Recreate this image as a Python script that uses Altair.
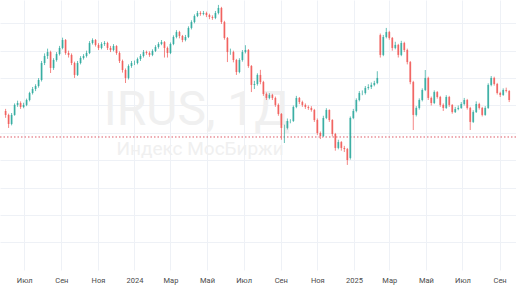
import altair as alt
import pandas as pd

# ---- data (index points, one candle per 5 days) ----
open_ = [2760,2731,2665,2731,2804,2818,2789,2804,2840,2891,
2920,2942,2986,3110,3161,3190,3074,3132,3176,3220,
3278,3183,3169,3110,3023,3110,3147,3161,3183,3256,
3278,3242,3220,3249,3256,3220,3205,3234,3183,3125,
3059,3001,3088,3110,3110,3139,3161,3190,3183,3169,
3198,3227,3249,3263,3220,3183,3249,3300,3336,3307,
3278,3300,3366,3409,3453,3475,3468,3475,3460,3446,
3439,3475,3512,3409,3293,3190,3190,3132,3044,3132,
3190,3205,3088,2950,2957,3023,2971,2884,2855,2877,
2855,2804,2738,2636,2636,2687,2687,2789,2855,2825,
2804,2789,2782,2767,2694,2599,2577,2709,2767,2694,
2592,2490,2533,2490,2482,2417,2709,2760,2840,2891,
2891,2928,2935,2950,2964,3314,3169,3300,3336,3293,
3220,3242,3169,3256,3205,3117,2971,2731,2782,2840,
2913,3001,2855,2818,2898,2862,2804,2782,2862,2804,
2752,2774,2782,2811,2840,2782,2680,2752,2811,2782,
2731,2782,2950,3001,2957,2891,2877,2913,2906]

high = [2775,2740,2745,2815,2835,2830,2820,2850,2900,2935,
2955,3000,3125,3180,3215,3200,3145,3190,3235,3295,
3285,3200,3180,3120,3125,3160,3175,3200,3270,3290,
3285,3255,3262,3270,3265,3235,3248,3240,3195,3135,
3070,3100,3125,3128,3150,3175,3205,3200,3195,3210,
3240,3262,3278,3270,3230,3260,3312,3350,3345,3315,
3315,3378,3422,3465,3490,3488,3490,3485,3470,3458,
3490,3534,3520,3418,3300,3215,3200,3140,3145,3205,
3240,3212,3095,2980,3035,3060,2980,2895,2890,2885,
2865,2815,2745,2660,2705,2700,2800,2870,2862,2835,
2815,2800,2795,2775,2705,2610,2725,2780,2772,2700,
2600,2550,2540,2505,2490,2720,2775,2852,2905,2910,
2942,2955,2968,2980,3050,3325,3315,3366,3345,3300,
3265,3250,3272,3265,3215,3125,2980,2795,2852,2925,
3059,3010,2865,2910,2905,2870,2815,2875,2870,2810,
2790,2800,2825,2855,2848,2790,2765,2830,2820,2790,
2795,2962,3015,3010,2965,2900,2925,2930,2912]

low = [2710,2636,2655,2725,2790,2775,2780,2795,2830,2880,
2905,2930,2975,3095,3140,3037,3060,3120,3165,3210,
3170,3150,3095,3001,3015,3100,3135,3150,3175,3245,
3230,3205,3210,3235,3205,3190,3195,3170,3110,3040,
2964,2990,3075,3095,3100,3125,3150,3170,3155,3160,
3190,3215,3240,3150,3150,3175,3240,3290,3290,3262,
3268,3292,3355,3400,3445,3455,3458,3445,3430,3425,
3430,3465,3395,3280,3117,3170,3115,3023,3035,3120,
3180,3075,2898,2920,2945,2955,2870,2840,2845,2840,
2790,2725,2550,2526,2625,2670,2680,2780,2810,2790,
2775,2768,2755,2680,2585,2555,2570,2700,2680,2575,
2470,2480,2470,2460,2366,2405,2700,2750,2830,2875,
2880,2915,2920,2940,2955,3150,3160,3290,3280,3200,
3210,3150,3160,3190,3100,2955,2621,2720,2770,2830,
2905,2840,2800,2810,2850,2790,2760,2775,2790,2740,
2745,2765,2775,2800,2770,2621,2672,2745,2770,2720,
2725,2775,2940,2945,2880,2862,2870,2895,2825]

close = [2731,2665,2731,2804,2818,2789,2804,2840,2891,2920,
2942,2986,3110,3161,3190,3074,3132,3176,3220,3278,
3183,3169,3110,3023,3110,3147,3161,3183,3256,3278,
3242,3220,3249,3256,3220,3205,3234,3183,3125,3059,
3001,3088,3110,3110,3139,3161,3190,3183,3169,3198,
3227,3249,3263,3220,3183,3249,3300,3336,3307,3278,
3300,3366,3409,3453,3475,3468,3475,3460,3446,3439,
3475,3512,3409,3293,3190,3190,3132,3044,3132,3190,
3205,3088,2950,2957,3023,2971,2884,2855,2877,2855,
2804,2738,2636,2636,2687,2687,2789,2855,2825,2804,
2789,2782,2767,2694,2599,2577,2709,2767,2694,2592,
2490,2533,2490,2482,2402,2709,2760,2840,2891,2891,
2928,2935,2950,2964,3001,3169,3300,3336,3293,3220,
3242,3169,3256,3205,3117,2971,2731,2782,2840,2913,
3001,2855,2818,2898,2862,2804,2782,2862,2804,2752,
2774,2782,2811,2840,2782,2680,2752,2811,2782,2731,
2782,2950,3001,2957,2891,2877,2913,2906,2840]

n = min(len(open_), len(high), len(low), len(close))
dates = pd.date_range("2023-05-31", periods=n, freq="5D").strftime("%Y-%m-%d")

tick_dates = ["2023-07-01","2023-09-01","2023-11-01","2024-01-01","2024-03-01",
              "2024-05-01","2024-07-01","2024-09-01","2024-11-01","2025-01-01",
              "2025-03-01","2025-05-01","2025-07-01","2025-09-01"]
tick_labels = ["Июл","Сен","Ноя","2024","Мар","Май","Июл","Сен","Ноя","2025",
               "Мар","Май","Июл","Сен"]
grid_levels = [1800, 2000, 2200, 2400, 2600, 2800, 3000, 3200, 3400]
ref_level = [2570]
x_range = ["2023-05-30", "2025-09-20"]
y_range = [1599, 3570]
watermark = ["IRUS, 1Д", "Индекс МосБиржи"]

df = pd.DataFrame({"date": list(dates), "o": open_[:n], "h": high[:n],
                   "l": low[:n], "c": close[:n]})

def ms(d):
    return int(pd.Timestamp(d, tz="UTC").value // 10**6)

label_expr = "".join(
    f"utcFormat(datum.value, '%Y-%m') == '{d[:7]}' ? '{lab}' : "
    for d, lab in zip(tick_dates, tick_labels)
) + "''"

GREEN = "#26a69a"
RED = "#ef5350"
GRID = "#eef1f6"

xscale = alt.Scale(type="utc", domain=[ms(x_range[0]), ms(x_range[1])])
yscale = alt.Scale(domain=y_range, nice=False, zero=False)

xaxis = alt.Axis(values=[ms(d) for d in tick_dates], tickCount=40, labelExpr=label_expr,
                 grid=True, gridColor=GRID, ticks=False, domain=False,
                 labelFontSize=7.5, labelColor="#4a4a4a", labelFont="Roboto",
                 labelPadding=6, labelOverlap=False, labelFlush=False, title=None)
yaxis = alt.Axis(values=grid_levels, tickCount=20, labels=False, ticks=False, domain=False,
                 grid=True, gridColor=GRID, title=None)

color = alt.condition("datum.o <= datum.c", alt.value(GREEN), alt.value(RED))

base = alt.Chart(df)

wicks = base.mark_rule(strokeWidth=1, opacity=0.7).encode(
    x=alt.X("date:T", scale=xscale, axis=xaxis),
    y=alt.Y("l:Q", scale=yscale, axis=yaxis),
    y2="h:Q",
    color=color,
)
bodies = base.mark_bar(size=1.8, opacity=0.75).encode(
    x=alt.X("date:T", scale=xscale),
    y=alt.Y("o:Q", scale=yscale),
    y2="c:Q",
    color=color,
)

wm1 = alt.Chart(pd.DataFrame({"t": [watermark[0]]})).mark_text(
    font="Roboto", fontSize=48, color="#f0f0f0", align="center", baseline="alphabetic"
).encode(text="t:N", x=alt.value(197), y=alt.value(125))
wm2 = alt.Chart(pd.DataFrame({"t": [watermark[1]]})).mark_text(
    font="Roboto", fontSize=19, color="#f0f0f0", align="center", baseline="alphabetic"
).encode(text="t:N", x=alt.value(200), y=alt.value(155))

ref = alt.Chart(pd.DataFrame({"v": ref_level})).mark_rule(
    color="#dc5a68", strokeWidth=1, strokeDash=[1.5, 2]
).encode(y=alt.Y("v:Q", scale=yscale))

chart = alt.layer(wm1, wm2, ref, wicks, bodies).properties(
    width=516, height=270,
    autosize=alt.AutoSizeParams(type="none"),
    padding={"left": 0, "top": 0, "right": 0, "bottom": 19},
    background="white",
).configure_view(stroke=None)

chart.save("out.html", embed_options={"renderer": "svg", "actions": False})
